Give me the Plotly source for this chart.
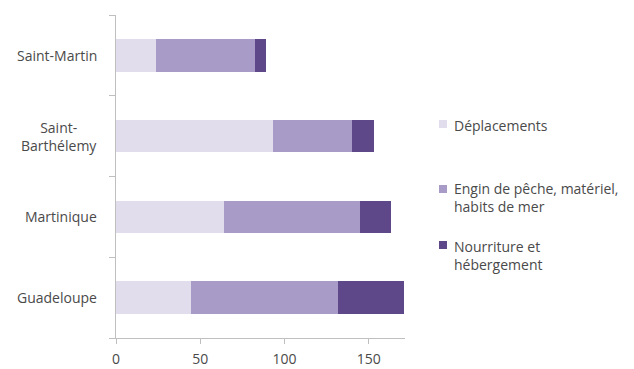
import plotly.graph_objects as go

# Régions (de bas en haut sur l'axe des catégories)
regions = ["Guadeloupe", "Martinique", "Saint-Barthélemy", "Saint-Martin"]
region_labels = ["Guadeloupe", "Martinique", "Saint-<br>Barthélemy", "Saint-Martin"]

# Postes de dépense
deplacements = [44.5, 64, 93, 24]
engins = [87, 81, 47, 58.5]
nourriture = [39.5, 18, 13, 6.5]

series_names = ["Déplacements", "Engin de pêche, matériel,<br>habits de mer", "Nourriture et<br>hébergement"]
series_values = [deplacements, engins, nourriture]
series_colors = ["#E2DDEC", "#A99BC8", "#5E4889"]

x_ticks = [0, 50, 100, 150]

FONT = "Open Sans"
TEXT = "#4A4A4A"
AXIS = "#BFBFBF"

# Zone de tracé (pixels)
L, R, T, B = 116, 229, 15, 31
W, H = 634, 369
plot_h = H - T - B


def paper_y(py):
    return (H - B - py) / plot_h


fig = go.Figure()
for name, vals, col in zip(series_names, series_values, series_colors):
    fig.add_trace(go.Bar(
        y=regions, x=vals, name=name, orientation="h",
        marker=dict(color=col, line=dict(width=0)),
        showlegend=False,
    ))

# Libellés des catégories, centrés ligne par ligne
for reg, lab in zip(regions, region_labels):
    fig.add_annotation(
        x=0, xref="paper", xshift=-17, xanchor="right",
        y=reg, yref="y", text=lab, showarrow=False, align="center",
        font=dict(family=FONT, size=14, color=TEXT),
    )

# Légende : petit carré + texte à droite du graphique
legend_square_y = [124, 189, 245]
legend_text_y = [125, 197, 256]
for name, col, sy, ty in zip(series_names, series_colors, legend_square_y, legend_text_y):
    fig.add_shape(
        type="rect", xref="paper", yref="paper",
        xsizemode="pixel", ysizemode="pixel",
        xanchor=1, yanchor=paper_y(sy),
        x0=34, x1=42, y0=-4, y1=4,
        fillcolor=col, line=dict(width=0),
    )
    fig.add_annotation(
        x=1, xref="paper", xshift=47, xanchor="left",
        y=paper_y(ty), yref="paper", yanchor="middle",
        text=name, showarrow=False, align="left",
        font=dict(family=FONT, size=14, color=TEXT),
    )

fig.update_layout(
    width=W, height=H,
    margin=dict(l=L, r=R, t=T, b=B, autoexpand=False),
    paper_bgcolor="white", plot_bgcolor="white",
    barmode="stack", bargap=0.6,
    font=dict(family=FONT, size=14, color=TEXT),
    showlegend=False,
    xaxis=dict(
        range=[0, 171.5], tickvals=x_ticks, ticktext=[str(v) for v in x_ticks],
        showgrid=False, zeroline=False, automargin=False,
        showline=True, linecolor=AXIS, linewidth=1,
        ticks="outside", ticklen=5, tickcolor=AXIS,
        ticklabelstandoff=3,
        tickfont=dict(family=FONT, size=14, color=TEXT),
    ),
    yaxis=dict(
        type="category", categoryorder="array", categoryarray=regions,
        showticklabels=False, showgrid=False, zeroline=False, automargin=False,
        showline=True, linecolor=AXIS, linewidth=1,
        ticks="outside", ticklen=6, tickcolor=AXIS, tickson="boundaries",
    ),
)

fig.write_html("out.html")
